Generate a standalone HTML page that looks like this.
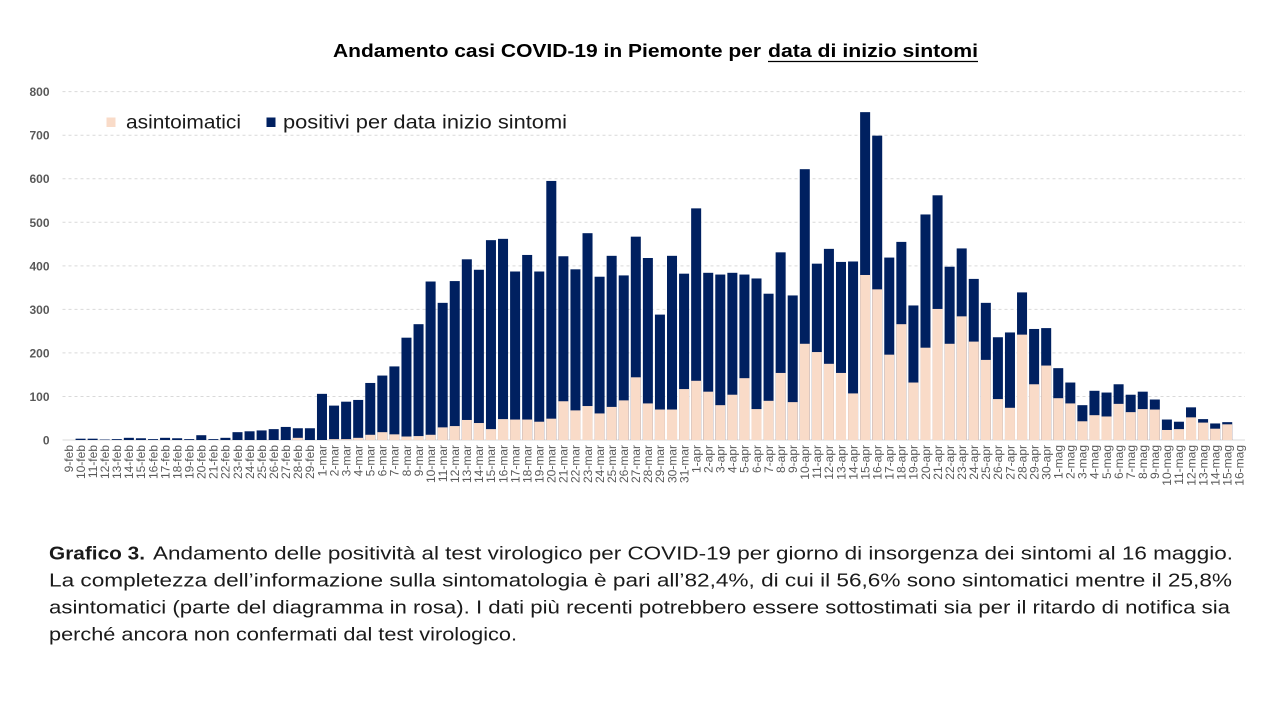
<!DOCTYPE html>
<html><head><meta charset="utf-8"><style>
html,body{margin:0;padding:0;background:#fff;width:1280px;height:720px;overflow:hidden}
svg{display:block}
</style></head><body>
<svg width="1280" height="720" viewBox="0 0 1280 720" xmlns="http://www.w3.org/2000/svg">
<rect width="1280" height="720" fill="#fff"/>
<!-- title -->
<text x="333" y="57" font-family="Liberation Sans, sans-serif" font-weight="bold" font-size="18" fill="#000" textLength="428" lengthAdjust="spacingAndGlyphs">Andamento casi COVID-19 in Piemonte per</text>
<text x="768" y="57" font-family="Liberation Sans, sans-serif" font-weight="bold" font-size="18" fill="#000" textLength="210" lengthAdjust="spacingAndGlyphs">data di inizio sintomi</text>
<line x1="768" y1="61.5" x2="978" y2="61.5" stroke="#000" stroke-width="1.3"/>
<!-- gridlines -->
<g stroke="#d9d9d9" stroke-width="1" stroke-dasharray="3,3">
<line x1="62.5" y1="396.46" x2="1245" y2="396.46"/>
<line x1="62.5" y1="352.92" x2="1245" y2="352.92"/>
<line x1="62.5" y1="309.38" x2="1245" y2="309.38"/>
<line x1="62.5" y1="265.84" x2="1245" y2="265.84"/>
<line x1="62.5" y1="222.3" x2="1245" y2="222.3"/>
<line x1="62.5" y1="178.76" x2="1245" y2="178.76"/>
<line x1="62.5" y1="135.22" x2="1245" y2="135.22"/>
<line x1="62.5" y1="91.68" x2="1245" y2="91.68"/>
</g>
<line x1="62.5" y1="440" x2="1245" y2="440" stroke="#d9d9d9" stroke-width="1"/>
<!-- y labels -->
<g font-family="Liberation Sans, sans-serif" font-weight="bold" font-size="12" fill="#595959" text-anchor="end">
<text x="49.5" y="444.5">0</text>
<text x="49.5" y="401">100</text>
<text x="49.5" y="357.4">200</text>
<text x="49.5" y="313.9">300</text>
<text x="49.5" y="270.3">400</text>
<text x="49.5" y="226.8">500</text>
<text x="49.5" y="183.2">600</text>
<text x="49.5" y="139.7">700</text>
<text x="49.5" y="96.2">800</text>
</g>
<!-- bars -->
<g transform="translate(63.5,440) scale(12.07,-0.4354)">
<g fill="#002060">
<rect x="1" width=".83" height="3"/><rect x="2" width=".83" height="3"/><rect x="3" width=".83" height="1"/><rect x="4" width=".83" height="2"/><rect x="5" width=".83" height="5"/><rect x="6" width=".83" height="4"/><rect x="7" width=".83" height="2"/><rect x="8" width=".83" height="5"/><rect x="9" width=".83" height="4"/><rect x="10" width=".83" height="2"/><rect x="11" width=".83" height="11"/><rect x="12" width=".83" height="2"/><rect x="13" width=".83" height="5"/><rect x="14" width=".83" height="18"/><rect x="15" width=".83" height="20"/><rect x="16" width=".83" height="22"/><rect x="17" width=".83" height="25"/><rect x="18" width=".83" height="30"/><rect x="19" width=".83" height="27"/><rect x="20" width=".83" height="27"/>
<rect x="21" width=".83" height="106"/><rect x="22" width=".83" height="79"/><rect x="23" width=".83" height="88"/><rect x="24" width=".83" height="92"/><rect x="25" width=".83" height="131"/><rect x="26" width=".83" height="148"/><rect x="27" width=".83" height="169"/><rect x="28" width=".83" height="235"/><rect x="29" width=".83" height="266"/><rect x="30" width=".83" height="364"/><rect x="31" width=".83" height="315"/><rect x="32" width=".83" height="365"/><rect x="33" width=".83" height="415"/><rect x="34" width=".83" height="391"/><rect x="35" width=".83" height="459"/><rect x="36" width=".83" height="462"/><rect x="37" width=".83" height="387"/><rect x="38" width=".83" height="425"/><rect x="39" width=".83" height="387"/><rect x="40" width=".83" height="595"/><rect x="41" width=".83" height="422"/><rect x="42" width=".83" height="392"/><rect x="43" width=".83" height="475"/><rect x="44" width=".83" height="375"/><rect x="45" width=".83" height="423"/><rect x="46" width=".83" height="378"/><rect x="47" width=".83" height="467"/><rect x="48" width=".83" height="418"/><rect x="49" width=".83" height="288"/><rect x="50" width=".83" height="423"/><rect x="51" width=".83" height="382"/>
<rect x="52" width=".83" height="532"/><rect x="53" width=".83" height="384"/><rect x="54" width=".83" height="380"/><rect x="55" width=".83" height="384"/><rect x="56" width=".83" height="380"/><rect x="57" width=".83" height="371"/><rect x="58" width=".83" height="336"/><rect x="59" width=".83" height="431"/><rect x="60" width=".83" height="332"/><rect x="61" width=".83" height="622"/><rect x="62" width=".83" height="405"/><rect x="63" width=".83" height="439"/><rect x="64" width=".83" height="409"/><rect x="65" width=".83" height="410"/><rect x="66" width=".83" height="753"/><rect x="67" width=".83" height="699"/><rect x="68" width=".83" height="419"/><rect x="69" width=".83" height="455"/><rect x="70" width=".83" height="309"/><rect x="71" width=".83" height="518"/><rect x="72" width=".83" height="562"/><rect x="73" width=".83" height="398"/><rect x="74" width=".83" height="440"/><rect x="75" width=".83" height="370"/><rect x="76" width=".83" height="315"/><rect x="77" width=".83" height="236"/><rect x="78" width=".83" height="247"/><rect x="79" width=".83" height="339"/><rect x="80" width=".83" height="255"/><rect x="81" width=".83" height="257"/>
<rect x="82" width=".83" height="165"/><rect x="83" width=".83" height="132"/><rect x="84" width=".83" height="80"/><rect x="85" width=".83" height="113"/><rect x="86" width=".83" height="109"/><rect x="87" width=".83" height="128"/><rect x="88" width=".83" height="104"/><rect x="89" width=".83" height="111"/><rect x="90" width=".83" height="93"/><rect x="91" width=".83" height="47"/><rect x="92" width=".83" height="42"/><rect x="93" width=".83" height="75"/><rect x="94" width=".83" height="48"/><rect x="95" width=".83" height="38"/><rect x="96" width=".83" height="41"/>
</g>
<g fill="#f9dbc8">
<rect x="19" width=".83" height="5"/>
<rect x="22" width=".83" height="2"/><rect x="23" width=".83" height="2"/><rect x="24" width=".83" height="5"/><rect x="25" width=".83" height="12"/><rect x="26" width=".83" height="18"/><rect x="27" width=".83" height="13"/><rect x="28" width=".83" height="8"/><rect x="29" width=".83" height="9"/><rect x="30" width=".83" height="12"/><rect x="31" width=".83" height="29"/><rect x="32" width=".83" height="32"/><rect x="33" width=".83" height="46"/><rect x="34" width=".83" height="39"/><rect x="35" width=".83" height="25"/><rect x="36" width=".83" height="48"/><rect x="37" width=".83" height="47"/><rect x="38" width=".83" height="47"/><rect x="39" width=".83" height="42"/><rect x="40" width=".83" height="49"/><rect x="41" width=".83" height="89"/><rect x="42" width=".83" height="68"/><rect x="43" width=".83" height="78"/><rect x="44" width=".83" height="61"/><rect x="45" width=".83" height="76"/><rect x="46" width=".83" height="91"/><rect x="47" width=".83" height="144"/><rect x="48" width=".83" height="84"/><rect x="49" width=".83" height="70"/><rect x="50" width=".83" height="70"/><rect x="51" width=".83" height="117"/>
<rect x="52" width=".83" height="136"/><rect x="53" width=".83" height="111"/><rect x="54" width=".83" height="80"/><rect x="55" width=".83" height="104"/><rect x="56" width=".83" height="142"/><rect x="57" width=".83" height="71"/><rect x="58" width=".83" height="90"/><rect x="59" width=".83" height="154"/><rect x="60" width=".83" height="87"/><rect x="61" width=".83" height="221"/><rect x="62" width=".83" height="202"/><rect x="63" width=".83" height="175"/><rect x="64" width=".83" height="154"/><rect x="65" width=".83" height="107"/><rect x="66" width=".83" height="379"/><rect x="67" width=".83" height="346"/><rect x="68" width=".83" height="196"/><rect x="69" width=".83" height="266"/><rect x="70" width=".83" height="132"/><rect x="71" width=".83" height="212"/><rect x="72" width=".83" height="301"/><rect x="73" width=".83" height="221"/><rect x="74" width=".83" height="284"/><rect x="75" width=".83" height="226"/><rect x="76" width=".83" height="184"/><rect x="77" width=".83" height="94"/><rect x="78" width=".83" height="74"/><rect x="79" width=".83" height="242"/><rect x="80" width=".83" height="128"/><rect x="81" width=".83" height="171"/>
<rect x="82" width=".83" height="96"/><rect x="83" width=".83" height="84"/><rect x="84" width=".83" height="43"/><rect x="85" width=".83" height="57"/><rect x="86" width=".83" height="54"/><rect x="87" width=".83" height="83"/><rect x="88" width=".83" height="64"/><rect x="89" width=".83" height="71"/><rect x="90" width=".83" height="70"/><rect x="91" width=".83" height="23"/><rect x="92" width=".83" height="25"/><rect x="93" width=".83" height="52"/><rect x="94" width=".83" height="40"/><rect x="95" width=".83" height="26"/><rect x="96" width=".83" height="36"/>
</g>
</g>
<!-- x labels -->
<g transform="translate(72.8,445) rotate(-90)" font-family="Liberation Sans, sans-serif" font-size="12" fill="#595959" text-anchor="end">
<text x="0" y="0">9-feb</text><text x="0" y="12.07">10-feb</text><text x="0" y="24.14">11-feb</text><text x="0" y="36.21">12-feb</text><text x="0" y="48.28">13-feb</text><text x="0" y="60.35">14-feb</text><text x="0" y="72.42">15-feb</text><text x="0" y="84.49">16-feb</text><text x="0" y="96.56">17-feb</text><text x="0" y="108.63">18-feb</text><text x="0" y="120.7">19-feb</text><text x="0" y="132.77">20-feb</text><text x="0" y="144.84">21-feb</text><text x="0" y="156.91">22-feb</text><text x="0" y="168.98">23-feb</text><text x="0" y="181.05">24-feb</text><text x="0" y="193.12">25-feb</text><text x="0" y="205.19">26-feb</text><text x="0" y="217.26">27-feb</text><text x="0" y="229.33">28-feb</text><text x="0" y="241.4">29-feb</text>
<text x="0" y="253.47">1-mar</text><text x="0" y="265.54">2-mar</text><text x="0" y="277.61">3-mar</text><text x="0" y="289.68">4-mar</text><text x="0" y="301.75">5-mar</text><text x="0" y="313.82">6-mar</text><text x="0" y="325.89">7-mar</text><text x="0" y="337.96">8-mar</text><text x="0" y="350.03">9-mar</text><text x="0" y="362.1">10-mar</text><text x="0" y="374.17">11-mar</text><text x="0" y="386.24">12-mar</text><text x="0" y="398.31">13-mar</text><text x="0" y="410.38">14-mar</text><text x="0" y="422.45">15-mar</text><text x="0" y="434.52">16-mar</text><text x="0" y="446.59">17-mar</text><text x="0" y="458.66">18-mar</text><text x="0" y="470.73">19-mar</text><text x="0" y="482.8">20-mar</text><text x="0" y="494.87">21-mar</text><text x="0" y="506.94">22-mar</text><text x="0" y="519.01">23-mar</text><text x="0" y="531.08">24-mar</text><text x="0" y="543.15">25-mar</text><text x="0" y="555.22">26-mar</text><text x="0" y="567.29">27-mar</text><text x="0" y="579.36">28-mar</text><text x="0" y="591.43">29-mar</text><text x="0" y="603.5">30-mar</text><text x="0" y="615.57">31-mar</text>
<text x="0" y="627.64">1-apr</text><text x="0" y="639.71">2-apr</text><text x="0" y="651.78">3-apr</text><text x="0" y="663.85">4-apr</text><text x="0" y="675.92">5-apr</text><text x="0" y="687.99">6-apr</text><text x="0" y="700.06">7-apr</text><text x="0" y="712.13">8-apr</text><text x="0" y="724.2">9-apr</text><text x="0" y="736.27">10-apr</text><text x="0" y="748.34">11-apr</text><text x="0" y="760.41">12-apr</text><text x="0" y="772.48">13-apr</text><text x="0" y="784.55">14-apr</text><text x="0" y="796.62">15-apr</text><text x="0" y="808.69">16-apr</text><text x="0" y="820.76">17-apr</text><text x="0" y="832.83">18-apr</text><text x="0" y="844.9">19-apr</text><text x="0" y="856.97">20-apr</text><text x="0" y="869.04">21-apr</text><text x="0" y="881.11">22-apr</text><text x="0" y="893.18">23-apr</text><text x="0" y="905.25">24-apr</text><text x="0" y="917.32">25-apr</text><text x="0" y="929.39">26-apr</text><text x="0" y="941.46">27-apr</text><text x="0" y="953.53">28-apr</text><text x="0" y="965.6">29-apr</text><text x="0" y="977.67">30-apr</text>
<text x="0" y="989.74">1-mag</text><text x="0" y="1001.81">2-mag</text><text x="0" y="1013.88">3-mag</text><text x="0" y="1025.95">4-mag</text><text x="0" y="1038.02">5-mag</text><text x="0" y="1050.09">6-mag</text><text x="0" y="1062.16">7-mag</text><text x="0" y="1074.23">8-mag</text><text x="0" y="1086.3">9-mag</text><text x="0" y="1098.37">10-mag</text><text x="0" y="1110.44">11-mag</text><text x="0" y="1122.51">12-mag</text><text x="0" y="1134.58">13-mag</text><text x="0" y="1146.65">14-mag</text><text x="0" y="1158.72">15-mag</text><text x="0" y="1170.79">16-mag</text>
</g>
<!-- legend -->
<rect x="106.5" y="117.5" width="9" height="9.5" fill="#f9dbc8"/>
<text x="126" y="128.5" font-family="Liberation Sans, sans-serif" font-size="19" fill="#1a1a1a" textLength="115" lengthAdjust="spacingAndGlyphs">asintoimatici</text>
<rect x="266.5" y="117.5" width="9" height="9.5" fill="#002060"/>
<text x="283" y="128.5" font-family="Liberation Sans, sans-serif" font-size="19" fill="#1a1a1a" textLength="284" lengthAdjust="spacingAndGlyphs">positivi per data inizio sintomi</text>
<!-- caption -->
<g font-family="Liberation Sans, sans-serif" font-size="18" fill="#1a1a1a">
<text x="49" y="559.5" font-weight="bold" textLength="96" lengthAdjust="spacingAndGlyphs">Grafico 3.</text>
<text x="153" y="559.5" textLength="1080" lengthAdjust="spacingAndGlyphs">Andamento delle positività al test virologico per COVID-19 per giorno di insorgenza dei sintomi al 16 maggio.</text>
<text x="49" y="586.7" textLength="1183" lengthAdjust="spacingAndGlyphs">La completezza dell’informazione sulla sintomatologia è pari all’82,4%, di cui il 56,6% sono sintomatici mentre il 25,8%</text>
<text x="49" y="613.5" textLength="1181" lengthAdjust="spacingAndGlyphs">asintomatici (parte del diagramma in rosa). I dati più recenti potrebbero essere sottostimati sia per il ritardo di notifica sia</text>
<text x="49" y="640.5" textLength="468" lengthAdjust="spacingAndGlyphs">perché ancora non confermati dal test virologico.</text>
</g>
</svg>
</body></html>
